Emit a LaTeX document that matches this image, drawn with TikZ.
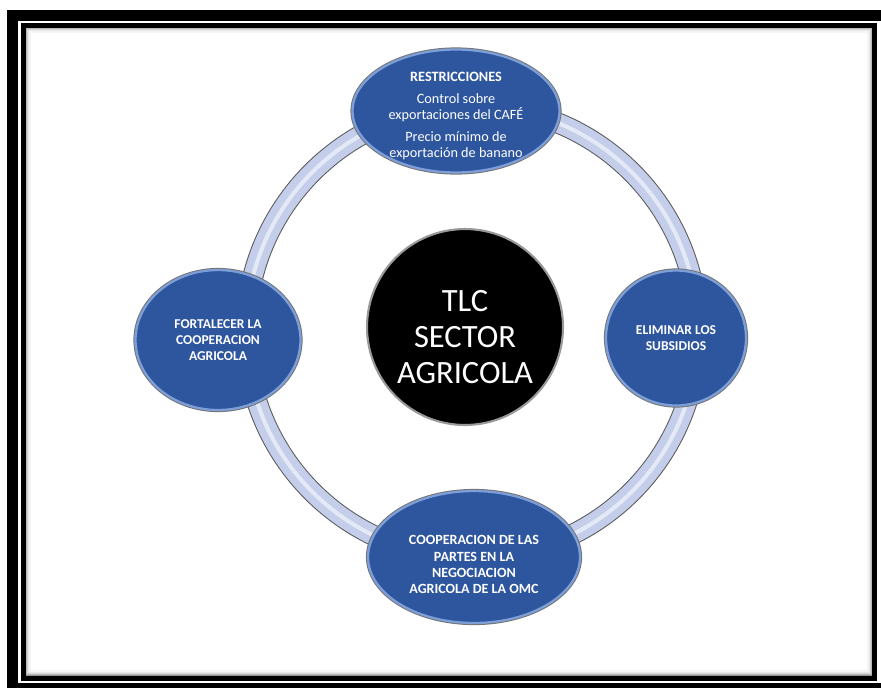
\documentclass[tikz,border=0pt]{standalone}
\usepackage{fontspec}
\setmainfont{Carlito}
\usetikzlibrary{shapes.geometric}
\definecolor{ellblue}{RGB}{46,86,158}
\definecolor{ellrim}{RGB}{125,158,214}
\definecolor{ringfill}{RGB}{196,206,234}
\tikzset{
    topic/.style={ellipse, fill=ellblue, draw=ellrim, line width=1.3pt,
        preaction={draw=black!55, line width=2.4pt},
        inner sep=-40pt, align=center, text=white,
        font=\bfseries\fontsize{7.7}{9.3}\selectfont},
    hub/.style={circle, fill=black, draw=black!40, line width=1.2pt,
        minimum size=3.92cm, inner sep=-20pt, align=center, text=white,
        font=\fontsize{18.5}{20.5}\selectfont}
}

\begin{document}
\begin{tikzpicture}[x=0.02cm,y=-0.02cm]
    \useasboundingbox (0,0) rectangle (881,687);

    % frame
    \fill[black] (7,10) rectangle (900,700);
    \fill[white] (18,21) rectangle (881,683);
    \foreach \i/\g in {1/60,2/42,3/28,4/17,5/9,6/4}
        \draw[black!\g, line width=0.022cm] (24+\i,26+\i) rectangle (874-\i,677-\i);
    \draw[black, line width=0.09cm] (23.5,25.5) rectangle (874.5,678.5);

    % ring
    \draw[black!65, line width=0.42cm] (472,332) circle [radius=4.52cm];
    \draw[ringfill, line width=0.38cm] (472,332) circle [radius=4.52cm];
    \draw[white!55!ringfill, line width=0.08cm] (472,332) circle [radius=4.52cm];

    \node[hub] (tlc) at (465,327) {\rule{0pt}{23.5pt}TLC\\SECTOR\\AGRICOLA};

    \node[topic, minimum width=4.14cm, minimum height=2.46cm,
          font=\fontsize{8.1}{9.3}\selectfont] (restr) at (456,111)
        {\rule{0pt}{11pt}\textbf{RESTRICCIONES}\\[3pt]
         Control sobre\\exportaciones del CAFÉ\\[3pt]
         Precio mínimo de\\exportación de banano};
    \node[topic, minimum width=3.3cm, minimum height=2.8cm] (fort) at (218,340)
        {FORTALECER LA\\COOPERACION\\AGRICOLA};
    \node[topic, minimum width=2.8cm, minimum height=2.7cm] (elim) at (676,338)
        {ELIMINAR LOS\\SUBSIDIOS};
    \node[topic, minimum width=4.24cm, minimum height=2.64cm,
          font=\bfseries\fontsize{8}{9.3}\selectfont] (coop) at (474,557)
        {\rule{0pt}{14pt}COOPERACION DE LAS\\PARTES EN LA\\NEGOCIACION\\AGRICOLA DE LA OMC};
\end{tikzpicture}
\end{document}
